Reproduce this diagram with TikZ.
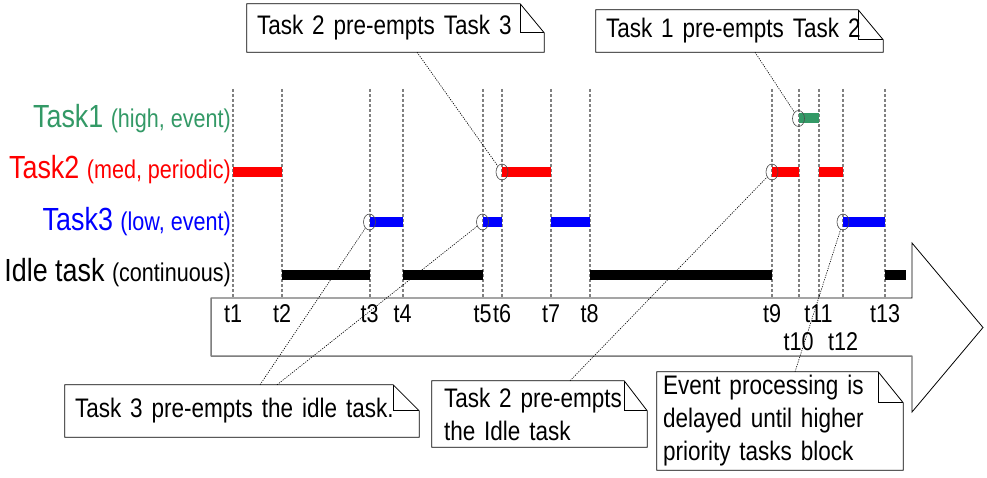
\documentclass[tikz,border=0pt]{standalone}
\usepackage{fontspec}
\setmainfont{Liberation Sans}[FakeStretch=0.84]
\usetikzlibrary{shapes.geometric}
\definecolor{taskgreen}{RGB}{51,153,102}

% outline of a note with a folded top right corner round node #1
\newcommand{\notefold}[3]{%
  \draw[line width=0.8pt] (#1.south west) -- (#1.north west) -- ([xshift=-#2]#1.north east)
    -- ([yshift=-#3]#1.north east) -- (#1.south east) -- cycle;
  \draw[line width=0.8pt] ([xshift=-#2]#1.north east) |- ([yshift=-#3]#1.north east);}

\begin{document}
\begin{tikzpicture}[x=1pt,y=-1pt,
  timeline/.style={gray,line width=2pt,dash pattern=on 3pt off 2pt},
  bar/.style={line width=10pt},
  ring/.style={ellipse,draw=black!70,line width=0.6pt,minimum width=12pt,minimum height=16pt,inner sep=0pt},
  pointer/.style={line width=0.6pt,dash pattern=on 1.2pt off 1.2pt},
  notebox/.style={inner xsep=10pt,inner ysep=0pt,align=left,font=\fontsize{26.8}{33}\selectfont},
  tlabel/.style={font=\fontsize{25.7}{26}\selectfont,anchor=base,inner sep=0pt},
  tasklabel/.style={anchor=base east,inner sep=0pt}]
\useasboundingbox (0,0) rectangle (987,478);
% big time arrow
\draw[line width=0.8pt] (211,298) -- (912,298) -- (912,243) -- (983,327.5) -- (912,412) -- (912,356) -- (211,356) -- cycle;
\draw[gray,line width=0.8pt] (211,298) -- (211,356) -- (912,356);
% rows
\coordinate (r1) at (0,118.5);
\coordinate (r2) at (0,172);
\coordinate (r3) at (0,222);
\coordinate (r4) at (0,274.5);
\coordinate (tend) at (906,298);
% time lines
\foreach \x [count=\i] in {233,282,369.5,402.5,482.5,502,551,589.5,772,798.5,818.5,843,885} {
  \coordinate (t\i) at (\x,298);
  \draw[timeline] (\x,89) -- (t\i);
}
\foreach \i in {1,2,3,4,5,6,7,8,9,11,13}
  \node[tlabel] (lab\i) at ([yshift=-24pt]t\i) {t\i};
\foreach \i in {10,12}
  \node[tlabel] (lab\i) at ([yshift=-52pt]t\i) {t\i};
% task names
\node[tasklabel,text=taskgreen] (task1) at (231,128) {\fontsize{32}{32}\selectfont Task1 \fontsize{25.7}{26}\selectfont(high, event)};
\node[tasklabel,text=red] (task2) at (231,179) {\fontsize{32}{32}\selectfont Task2 \fontsize{25.7}{26}\selectfont(med, periodic)};
\node[tasklabel,text=blue] (task3) at (231,231) {\fontsize{32}{32}\selectfont Task3 \fontsize{25.7}{26}\selectfont(low, event)};
\node[tasklabel] (idle) at (231,281) {\fontsize{32}{32}\selectfont Idle task \fontsize{25.7}{26}\selectfont(continuous)};
% running tasks
\draw[bar,taskgreen] (t10|-r1) -- (t11|-r1);
\draw[bar,red] (t1|-r2) -- (t2|-r2) (t6|-r2) -- (t7|-r2) (t9|-r2) -- (t10|-r2) (t11|-r2) -- (t12|-r2);
\draw[bar,blue] (t3|-r3) -- (t4|-r3) (t5|-r3) -- (t6|-r3) (t7|-r3) -- (t8|-r3) (t12|-r3) -- (t13|-r3);
\draw[bar] (t2|-r4) -- (t3|-r4) (t4|-r4) -- (t5|-r4) (t8|-r4) -- (t9|-r4) (t13|-r4) -- (tend|-r4);
% pre-emption points
\node[ring] (p1) at (t10|-r1) {};
\node[ring] (p2) at (t6|-r2) {};
\node[ring] (p3) at (t9|-r2) {};
\node[ring] (p4) at (t3|-r3) {};
\node[ring] (p5) at (t5|-r3) {};
\node[ring] (p6) at (t12|-r3) {};
% notes
\node[notebox,text width=277pt,minimum height=48pt] (nA) at (395.5,28) {Task 2 pre-empts Task 3};
\node[notebox,text width=267pt,minimum height=42pt] (nB) at (739.5,31) {Task 1 pre-empts Task 2};
\node[notebox,text width=334pt,minimum height=52pt] (nC) at (242,411) {Task 3 pre-empts the idle task.};
\node[notebox,inner xsep=12pt,text width=191pt,minimum height=66pt] (nD) at (539.5,414) {Task 2 pre-empts\\the Idle task};
\node[notebox,inner xsep=6pt,text width=234pt,minimum height=98pt] (nE) at (780,421) {Event processing is\\delayed until higher\\priority tasks block};
\notefold{nA}{24pt}{29pt}
\notefold{nB}{25pt}{30pt}
\notefold{nC}{26pt}{26pt}
\notefold{nD}{23pt}{30pt}
\notefold{nE}{25pt}{31pt}
\draw[pointer] ([xshift=21.5pt]nA.south) -- (p2);
\draw[pointer] ([xshift=15.5pt]nB.south) -- (p1);
\draw[pointer] ([xshift=18pt]nC.north) -- (p4);
\draw[pointer] ([xshift=35pt]nC.north) -- (p5);
\draw[pointer] ([xshift=30.5pt]nD.north) -- (p3);
\draw[pointer] ([xshift=15pt]nE.north) -- (p6);
\end{tikzpicture}
\end{document}
